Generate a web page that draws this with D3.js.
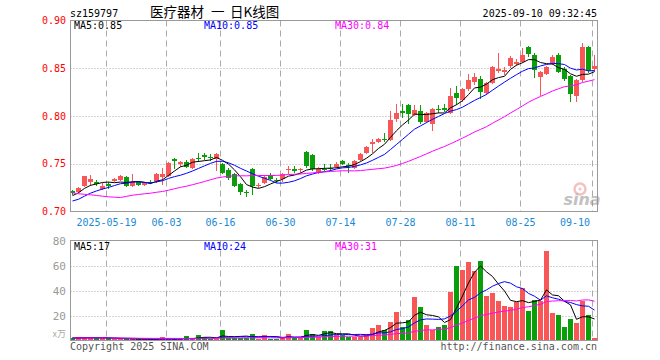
<!DOCTYPE html>
<html>
<head>
<meta charset="utf-8">
<script src="https://cdn.jsdelivr.net/npm/d3@7"></script>
<style>
  body { margin: 0; background: #fff; }
  svg { display: block; }
  text { font-family: "DejaVu Sans Mono", "Liberation Mono", monospace; font-size: 10px; }
</style>
</head>
<body>
<div id="chart"></div>
<script>
// trading days shown on the chart (2025)
const days = ['05-09','05-12','05-13','05-14','05-15','05-16','05-19','05-20','05-21','05-22','05-23',
  '05-26','05-27','05-28','05-29','05-30','06-03','06-04','06-05','06-06','06-09','06-10','06-11','06-12',
  '06-13','06-16','06-17','06-18','06-19','06-20','06-23','06-24','06-25','06-26','06-27','06-30','07-01',
  '07-02','07-03','07-04','07-07','07-08','07-09','07-10','07-11','07-14','07-15','07-16','07-17','07-18',
  '07-21','07-22','07-23','07-24','07-25','07-28','07-29','07-30','07-31','08-01','08-04','08-05','08-06',
  '08-07','08-08','08-11','08-12','08-13','08-14','08-15','08-18','08-19','08-20','08-21','08-22','08-25',
  '08-26','08-27','08-28','08-29','09-01','09-02','09-03','09-04','09-05','09-08','09-09','09-10'];

const opens = [0.721,0.720,0.727,0.731,0.731,0.724,0.729,0.732,0.733,0.736,0.727,0.731,0.728,0.731,0.732,
  0.736,0.737,0.755,0.750,0.752,0.746,0.756,0.759,0.757,0.755,0.750,0.743,0.739,0.729,0.720,0.744,0.727,
  0.730,0.737,0.733,0.734,0.743,0.745,0.743,0.762,0.759,0.740,0.745,0.746,0.747,0.753,0.749,0.746,0.754,
  0.761,0.771,0.773,0.776,0.775,0.797,0.805,0.812,0.801,0.805,0.794,0.792,0.807,0.808,0.803,0.824,0.817,
  0.828,0.836,0.839,0.824,0.835,0.847,0.846,0.852,0.854,0.857,0.872,0.864,0.841,0.844,0.855,0.864,0.849,
  0.842,0.821,0.838,0.872,0.849];
const highs = [0.722,0.726,0.737,0.738,0.733,0.730,0.731,0.735,0.738,0.737,0.739,0.732,0.731,0.733,0.740,
  0.746,0.752,0.756,0.753,0.754,0.756,0.761,0.761,0.760,0.761,0.751,0.746,0.740,0.730,0.722,0.746,0.730,
  0.738,0.740,0.735,0.740,0.748,0.748,0.746,0.763,0.760,0.747,0.750,0.750,0.752,0.754,0.751,0.754,0.761,
  0.769,0.776,0.777,0.782,0.805,0.813,0.813,0.813,0.812,0.812,0.804,0.808,0.812,0.813,0.829,0.831,0.829,
  0.844,0.845,0.842,0.836,0.852,0.866,0.851,0.863,0.860,0.871,0.873,0.866,0.847,0.852,0.864,0.866,0.851,
  0.843,0.839,0.876,0.873,0.864];
const lows = [0.717,0.719,0.726,0.727,0.727,0.722,0.724,0.731,0.732,0.726,0.726,0.727,0.727,0.729,0.730,
  0.728,0.736,0.744,0.747,0.746,0.745,0.752,0.754,0.753,0.742,0.739,0.733,0.726,0.717,0.715,0.717,0.725,
  0.729,0.733,0.730,0.731,0.739,0.740,0.740,0.746,0.742,0.739,0.742,0.742,0.746,0.749,0.740,0.745,0.753,
  0.760,0.761,0.772,0.773,0.774,0.794,0.798,0.792,0.800,0.792,0.793,0.784,0.803,0.804,0.802,0.811,0.815,
  0.826,0.832,0.818,0.822,0.834,0.845,0.843,0.850,0.852,0.856,0.862,0.840,0.821,0.843,0.853,0.845,0.837,
  0.815,0.815,0.836,0.845,0.846];
const closes = [0.719,0.725,0.737,0.734,0.729,0.727,0.727,0.734,0.737,0.727,0.731,0.728,0.730,0.730,0.739,
  0.739,0.751,0.753,0.752,0.747,0.755,0.755,0.757,0.756,0.760,0.740,0.735,0.727,0.720,0.719,0.727,0.728,
  0.736,0.734,0.732,0.739,0.744,0.742,0.744,0.748,0.745,0.745,0.744,0.745,0.750,0.750,0.748,0.753,0.760,
  0.768,0.773,0.776,0.775,0.796,0.803,0.803,0.802,0.806,0.794,0.803,0.807,0.806,0.806,0.821,0.819,0.828,
  0.838,0.841,0.825,0.835,0.851,0.849,0.848,0.861,0.857,0.864,0.865,0.848,0.846,0.851,0.862,0.846,0.839,
  0.823,0.838,0.872,0.847,0.852];
// volume, 万手
const volumes = [2.2,2.5,2.5,2.0,2.0,2.0,1.8,1.2,1.0,1.2,1.0,1.2,0.8,0.8,1.0,2.7,1.0,1.0,0.8,3.5,1.0,4.5,
  3.0,1.0,1.0,8.8,2.2,2.2,2.2,2.2,5.6,1.5,4.5,1.5,1.0,2.0,5.6,2.0,2.0,8.8,5.3,2.5,8.0,7.5,4.0,4.5,2.7,2.7,
  3.2,5.6,9.9,12.8,8.8,14.7,23.2,11.2,16.5,35.2,27.2,12.8,8.5,10.7,12.8,38.7,59.5,56.5,62.7,55.5,64.0,36.0,
  37.9,32.0,28.0,26.7,30.7,42.1,24.0,32.8,32.0,71.5,21.9,20.8,10.7,17.5,13.9,32.0,20.8,1.9];

// the 29 sessions before the window, only used to start the moving averages
const preCloses = [0.752,0.755,0.750,0.748,0.751,0.747,0.745,0.748,0.690,0.695,0.705,0.708,0.712,0.710,
  0.714,0.712,0.706,0.709,0.710,0.708,0.707,0.704,0.703,0.706,0.707,0.710,0.714,0.718,0.722];
const preVolumes = [2.4,2.6,2.2,2.0,2.3,2.8,3.0,2.5,2.2,2.0,1.9,2.1,1.8,1.7,2.0,1.9,1.8,2.0,1.6,1.7,1.8,
  1.6,1.5,1.7,1.8,2.0,2.2,2.1,2.0];

const tickDays = ['05-19','06-03','06-16','06-30','07-14','07-28','08-11','08-25','09-10'];
const tickLabels = ['2025-05-19','06-03','06-16','06-30','07-14','07-28','08-11','08-25','09-10'];
const priceTicks = [0.70, 0.75, 0.80, 0.85, 0.90];
const volTicks = [20, 40, 60, 80];

const maPeriods = [5, 10, 30];
const maColors = ['#000', '#00f', '#f0f'];
const UP = '#f95757', DOWN = '#0a9e0a';

const svg = d3.select('#chart').append('svg')
  .attr('width', 660).attr('height', 360)
  .style('background-color', 'white');

const x = d3.scaleBand().domain(days).range([69.5, 597.5]);
const cx = d => x(d) + 3;
const y = d3.scaleLinear().domain([0.70, 0.90]).range([211.5, 20.5]);
const yv = d3.scaleLinear().domain([0, 80]).range([340.5, 240.5]);

const movingAvg = (pre, vals, n) => {
  const all = pre.concat(vals);
  return vals.map((_, i) => d3.mean(all.slice(i + pre.length - n + 1, i + pre.length + 1)));
};

const bars = days.map((d, i) => ({
  d, o: opens[i], h: highs[i], l: lows[i], c: closes[i], v: volumes[i],
  up: closes[i] >= opens[i]
}));

const defs = svg.append('defs');
defs.append('clipPath').attr('id', 'clipMain')
  .append('rect').attr('x', 70.5).attr('y', 20.5).attr('width', 527).attr('height', 191);
defs.append('clipPath').attr('id', 'clipVol')
  .append('rect').attr('x', 70.5).attr('y', 240.5).attr('width', 527).attr('height', 100);

// grid
const grid = svg.append('g').attr('stroke', '#aaa').attr('fill', 'none');
grid.selectAll('.hp').data(priceTicks.slice(1, -1)).join('line')
  .attr('x1', 70.5).attr('x2', 597.5)
  .attr('y1', d => Math.round(y(d)) + 0.5).attr('y2', d => Math.round(y(d)) + 0.5)
  .attr('stroke-dasharray', '1,2');
grid.selectAll('.hv').data(volTicks.slice(0, -1)).join('line')
  .attr('x1', 70.5).attr('x2', 597.5)
  .attr('y1', d => Math.round(yv(d)) + 0.5).attr('y2', d => Math.round(yv(d)) + 0.5)
  .attr('stroke-dasharray', '1,2');
[[20.5, 211.5], [240.5, 340.5]].forEach(([a, b]) => {
  grid.append('g').selectAll('line').data(tickDays).join('line')
    .attr('x1', d => x(d) + 1).attr('x2', d => x(d) + 1)
    .attr('y1', a).attr('y2', b)
    .attr('stroke-dasharray', '6,4');
});

// watermark
const wm = svg.append('g').attr('opacity', 0.6);
wm.append('circle').attr('cx', 580).attr('cy', 189).attr('r', 5.5)
  .attr('fill', 'none').attr('stroke', '#e99').attr('stroke-width', 2.5);
wm.append('circle').attr('cx', 580).attr('cy', 189).attr('r', 1.5).attr('fill', '#e99');
wm.append('text').attr('x', 582).attr('y', 205).attr('text-anchor', 'middle')
  .style('font-family', 'DejaVu Sans').style('font-size', '16px')
  .style('font-style', 'italic').style('font-weight', 'bold')
  .attr('fill', '#999').text('sina');

// candles
const main = svg.append('g').attr('clip-path', 'url(#clipMain)');
const candle = main.selectAll('g.k').data(bars).join('g')
  .attr('fill', d => d.up ? UP : DOWN).attr('stroke', d => d.up ? UP : DOWN);
candle.append('line')
  .attr('x1', d => cx(d.d)).attr('x2', d => cx(d.d))
  .attr('y1', d => Math.round(y(d.h))).attr('y2', d => Math.round(y(d.l)));
candle.append('rect')
  .attr('stroke', 'none')
  .attr('x', d => x(d.d) + 0.5).attr('width', 5)
  .attr('y', d => Math.round(y(Math.max(d.o, d.c))))
  .attr('height', d => Math.max(1, Math.round(y(Math.min(d.o, d.c))) - Math.round(y(Math.max(d.o, d.c)))));

const priceLine = d3.line().x((v, i) => cx(days[i])).y(v => y(v));
const priceMAs = maPeriods.map(n => movingAvg(preCloses, closes, n));
main.selectAll('path.ma').data(priceMAs).join('path')
  .attr('fill', 'none').attr('stroke-width', 1)
  .attr('stroke', (d, i) => maColors[i]).attr('d', priceLine);

// volume
const vol = svg.append('g').attr('clip-path', 'url(#clipVol)');
vol.selectAll('rect').data(bars).join('rect')
  .attr('fill', d => d.up ? UP : DOWN)
  .attr('x', d => x(d.d) + 0.5).attr('width', 5)
  .attr('y', d => Math.round(yv(d.v)))
  .attr('height', d => 340.5 - Math.round(yv(d.v)));
const volLine = d3.line().x((v, i) => cx(days[i])).y(v => yv(v));
const volMAs = maPeriods.map(n => movingAvg(preVolumes, volumes, n));
vol.selectAll('path.ma').data(volMAs).join('path')
  .attr('fill', 'none').attr('stroke-width', 1)
  .attr('stroke', (d, i) => maColors[i]).attr('d', volLine);

// frames
svg.append('rect').attr('x', 70.5).attr('y', 20.5).attr('width', 527).attr('height', 191)
  .attr('fill', 'none').attr('stroke', '#999');
svg.append('rect').attr('x', 70.5).attr('y', 240.5).attr('width', 527).attr('height', 100)
  .attr('fill', 'none').attr('stroke', '#999');

// axis labels
svg.append('g').selectAll('text').data(priceTicks).join('text')
  .attr('x', 66).attr('y', d => y(d) + 3.5).attr('text-anchor', 'end')
  .attr('fill', '#f00').text(d => d.toFixed(2));
svg.append('g').selectAll('text').data(volTicks).join('text')
  .attr('x', 66).attr('y', d => yv(d) + 4).attr('text-anchor', 'end')
  .style('font-size', '11px').attr('fill', '#999').text(d => d);
svg.append('text').attr('x', 66).attr('y', 337).attr('text-anchor', 'end')
  .style('font-size', '9px').style('font-family', 'Noto Sans CJK SC')
  .attr('fill', '#aaa').text('x万');
// date labels: centred on the grid line, pulled in at the right edge
svg.append('g').selectAll('text').data(tickDays).join('text')
  .attr('x', d => Math.min(x(d) + 1, 590 - 15)).attr('y', 226).attr('text-anchor', 'middle')
  .attr('fill', '#1a8ad4').text((d, i) => tickLabels[i]);

// MA legends
const last = a => a[a.length - 1];
const legX = [74, 204, 335];
svg.append('g').selectAll('text').data(priceMAs).join('text')
  .attr('x', (d, i) => legX[i]).attr('y', 29)
  .attr('fill', (d, i) => maColors[i])
  .text((d, i) => `MA${maPeriods[i]}:${last(d).toFixed(2)}`);
svg.append('g').selectAll('text').data(volMAs).join('text')
  .attr('x', (d, i) => legX[i]).attr('y', 249.5)
  .attr('fill', (d, i) => maColors[i])
  .text((d, i) => `MA${maPeriods[i]}:${Math.round(last(d))}`);

// header and footer
svg.append('text').attr('x', 70).attr('y', 16.5).attr('fill', '#000').text('sz159797');
[['医疗器材', 150], ['一', 211], ['日K线图', 230]].forEach(([t, tx]) => {
  svg.append('text').attr('x', tx).attr('y', 17)
    .style('font-family', '"Noto Sans CJK SC"').style('font-size', '13.5px')
    .attr('fill', '#000').text(t);
});
svg.append('text').attr('x', 597).attr('y', 16.5).attr('text-anchor', 'end')
  .attr('fill', '#000').text('2025-09-10 09:32:45');
svg.append('text').attr('x', 70).attr('y', 350).attr('fill', '#555').text('Copyright 2025 SINA.COM');
svg.append('text').attr('x', 597).attr('y', 350).attr('text-anchor', 'end')
  .attr('fill', '#555').text('http://finance.sina.com.cn');
</script>
</body>
</html>
